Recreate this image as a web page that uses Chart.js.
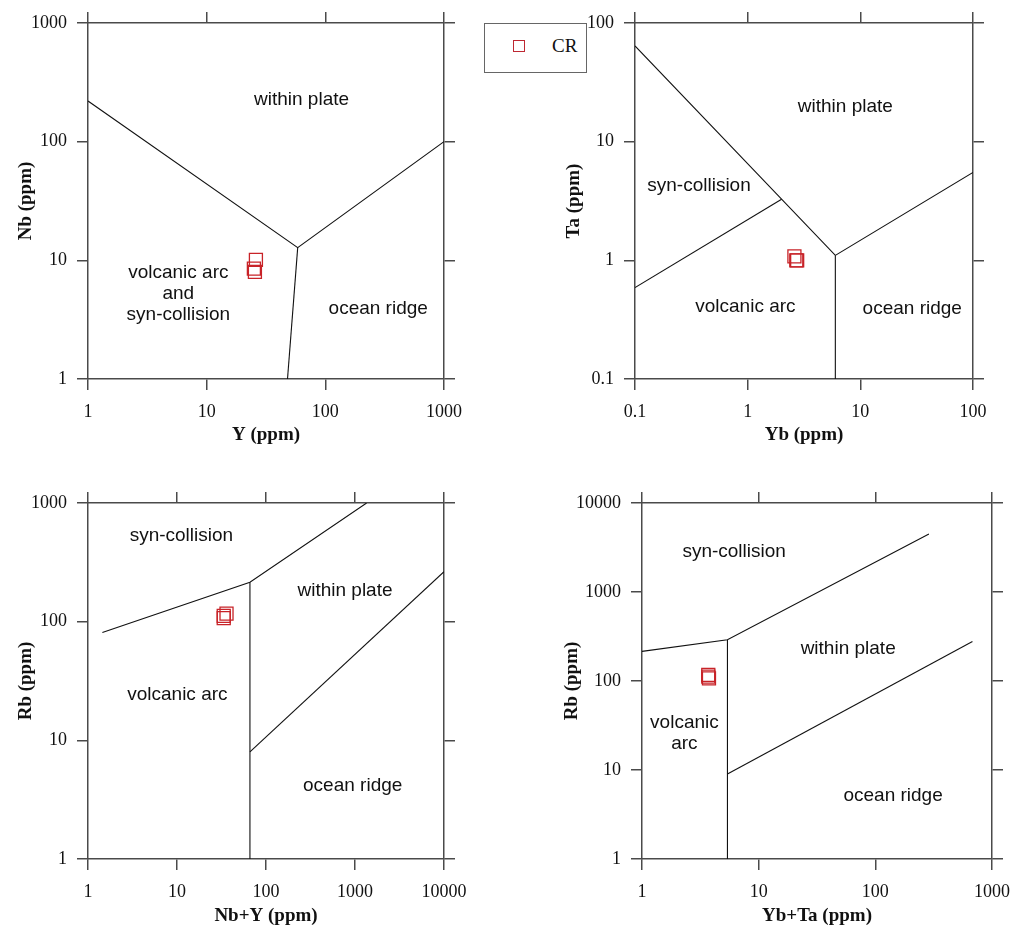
<!DOCTYPE html>
<html>
<head>
<meta charset="utf-8">
<title>Tectonic discrimination diagrams</title>
<script src="https://cdn.jsdelivr.net/npm/chart.js@4.4.1/dist/chart.umd.min.js"></script>
<style>
  html, body { margin: 0; padding: 0; background: #fff; overflow: hidden; }
  canvas { position: absolute; }
  #legend {
    position: absolute; left: 484px; top: 23px; width: 101px; height: 48px;
    border: 1.5px solid #666; background: #fff; z-index: 2;
    font-family: "Liberation Serif", "Times New Roman", serif; font-size: 19px; color: #111;
  }
  #legend .mk {
    position: absolute; left: 28px; top: 16px; width: 10px; height: 10px;
    border: 1.5px solid rgb(190, 40, 50);
  }
  #legend .lbl { position: absolute; left: 67px; top: 11px; line-height: 22px; }
</style>
</head>
<body>
<canvas id="nbY" width="480" height="460" style="left:0;top:0"></canvas>
<canvas id="taYb" width="509" height="460" style="left:520px;top:0"></canvas>
<canvas id="rbNbY" width="480" height="480" style="left:0;top:460px"></canvas>
<canvas id="rbYbTa" width="509" height="480" style="left:520px;top:460px"></canvas>
<div id="legend"><span class="mk"></span><span class="lbl">CR</span></div>
<script>
// CR samples
const sampleY = [26, 25, 25.5];
const sampleNb = [10.1, 8.5, 8.0];
const sampleYb = [2.6, 2.75, 2.7];
const sampleTa = [1.08, 1.0, 1.0];
const sampleRb = [117, 107, 112];
const sampleNbY = [36, 33.5, 33.5];
const sampleYbTa = [3.7, 3.75, 3.7];

// field boundaries, [x, y] pairs
const nbYLines = [
  [[1, 220], [58.5, 12.8], [1000, 100]],
  [[58.5, 12.8], [48, 1]]
];
const taYbLines = [
  [[0.1, 64], [6, 1.1], [100, 5.5]],
  [[0.1, 0.59], [2, 3.27]],
  [[6, 1.1], [6, 0.1]]
];
const rbNbYLines = [
  [[1.45, 81], [66, 215], [1350, 1000]],
  [[66, 215], [66, 1]],
  [[66, 8], [10000, 264]]
];
const rbYbTaLines = [
  [[1, 215], [5.4, 291], [288, 4490]],
  [[5.4, 291], [5.4, 1]],
  [[5.4, 9], [680, 278]]
];

// tick values
const ticks1to1000 = [1, 10, 100, 1000];
const ticks01to100 = [0.1, 1, 10, 100];
const ticks1to10000 = [1, 10, 100, 1000, 10000];

// field names
const nbYFields = [
  { text: ['within plate'], x: 63, y: 224 },
  { text: ['volcanic arc', 'and', 'syn-collision'], x: 5.77, y: 5.2 },
  { text: ['ocean ridge'], x: 279, y: 3.94 }
];
const taYbFields = [
  { text: ['within plate'], x: 7.36, y: 19.7 },
  { text: ['syn-collision'], x: 0.37, y: 4.23 },
  { text: ['volcanic arc'], x: 0.955, y: 0.407 },
  { text: ['ocean ridge'], x: 28.9, y: 0.394 }
];
const rbNbYFields = [
  { text: ['syn-collision'], x: 11.2, y: 529 },
  { text: ['within plate'], x: 772, y: 183 },
  { text: ['volcanic arc'], x: 10.1, y: 24.1 },
  { text: ['ocean ridge'], x: 942, y: 4.15 }
];
const rbYbTaFields = [
  { text: ['syn-collision'], x: 6.16, y: 2818 },
  { text: ['within plate'], x: 58.5, y: 230 },
  { text: ['volcanic', 'arc'], x: 2.31, y: 25.6 },
  { text: ['ocean ridge'], x: 142, y: 5.11 }
];

const axisColor = '#4a4a4a';
const red = 'rgb(200, 35, 40)';
const serif = '"Liberation Serif", "Times New Roman", serif';

// draws the field names at data coordinates
const fieldLabels = {
  id: 'fieldLabels',
  afterDatasetsDraw(chart, args, opts) {
    const { ctx, scales } = chart;
    ctx.save();
    ctx.font = '19px "Liberation Sans", Arial, sans-serif';
    ctx.fillStyle = '#111';
    ctx.textAlign = 'center';
    ctx.textBaseline = 'middle';
    (opts.items || []).forEach(f => {
      const cx = scales.x.getPixelForValue(f.x);
      const cy = scales.y.getPixelForValue(f.y);
      const y0 = cy - (f.text.length - 1) * 21 / 2;
      f.text.forEach((t, i) => ctx.fillText(t, cx, y0 + i * 21));
    });
    ctx.restore();
  }
};

function logAxis(axis, position, min, max, tickVals, size, extra) {
  return Object.assign({
    type: 'logarithmic',
    axis: axis,
    position: position,
    min: min,
    max: max,
    afterBuildTicks: s => { s.ticks = tickVals.map(v => ({ value: v })); },
    afterFit: s => {
      if (axis === 'x') s.height = size; else s.width = size;
    },
    grid: { drawOnChartArea: false, drawTicks: true, tickLength: 11, color: axisColor, lineWidth: 1.5 },
    border: { display: true, color: axisColor, width: 1.5 },
    ticks: { display: false }
  }, extra);
}

function shownTicks(pad) {
  return {
    display: true,
    autoSkip: false,
    maxRotation: 0,
    padding: pad,
    color: '#111',
    font: { family: serif, size: 18 },
    callback: v => String(v)
  };
}

function axisTitle(text, pad) {
  return { display: true, text: text, color: '#111', padding: pad,
           font: { family: serif, size: 19, weight: 'bold' } };
}

function makeChart(id, p) {
  const datasets = [{
    label: 'CR',
    data: p.xs.map((x, i) => ({ x: x, y: p.ys[i] })),
    xAxisID: 'x', yAxisID: 'y',
    pointStyle: 'rect',
    pointRadius: 9.2,
    borderColor: red,
    borderWidth: 1.3,
    backgroundColor: 'rgba(0,0,0,0)',
    showLine: false
  }];
  p.lines.forEach(l => {
    datasets.push({
      data: l.map(pt => ({ x: pt[0], y: pt[1] })),
      xAxisID: 'x', yAxisID: 'y',
      showLine: true,
      pointRadius: 0,
      borderColor: '#111',
      borderWidth: 1.1,
      fill: false
    });
  });

  new Chart(document.getElementById(id), {
    type: 'scatter',
    data: { datasets: datasets },
    options: {
      responsive: false,
      animation: false,
      devicePixelRatio: 1,
      layout: { padding: 0 },
      plugins: {
        legend: { display: false },
        tooltip: { enabled: false },
        fieldLabels: { items: p.fields }
      },
      scales: {
        x: logAxis('x', 'bottom', p.xr[0], p.xr[1], p.xt, p.bottom, {
          ticks: shownTicks(11),
          title: axisTitle(p.xTitle, { top: 0, bottom: p.xTitlePad })
        }),
        y: logAxis('y', 'left', p.yr[0], p.yr[1], p.yt, p.left, {
          ticks: shownTicks(10),
          title: axisTitle(p.yTitle, { top: p.yTitlePad, bottom: 0 })
        }),
        x2: logAxis('x', 'top', p.xr[0], p.xr[1], p.xt, p.top),
        y2: logAxis('y', 'right', p.yr[0], p.yr[1], p.yt, p.right)
      }
    },
    plugins: [fieldLabels]
  });
}

makeChart('nbY', {
  xs: sampleY, ys: sampleNb, lines: nbYLines, fields: nbYFields,
  xr: [1, 1000], yr: [1, 1000], xt: ticks1to1000, yt: ticks1to1000,
  xTitle: 'Y (ppm)', yTitle: 'Nb (ppm)',
  left: 88, right: 36, top: 23, bottom: 81, xTitlePad: 13.6, yTitlePad: 14.4
});

makeChart('taYb', {
  xs: sampleYb, ys: sampleTa, lines: taYbLines, fields: taYbFields,
  xr: [0.1, 100], yr: [0.1, 100], xt: ticks01to100, yt: ticks01to100,
  xTitle: 'Yb (ppm)', yTitle: 'Ta (ppm)',
  left: 115, right: 56, top: 23, bottom: 81, xTitlePad: 13.6, yTitlePad: 43.1
});

makeChart('rbNbY', {
  xs: sampleNbY, ys: sampleRb, lines: rbNbYLines, fields: rbNbYFields,
  xr: [1, 10000], yr: [1, 1000], xt: ticks1to10000, yt: ticks1to1000,
  xTitle: 'Nb+Y (ppm)', yTitle: 'Rb (ppm)',
  left: 88, right: 36, top: 43, bottom: 81, xTitlePad: 12.6, yTitlePad: 14.4
});

makeChart('rbYbTa', {
  xs: sampleYbTa, ys: sampleRb, lines: rbYbTaLines, fields: rbYbTaFields,
  xr: [1, 1000], yr: [1, 10000], xt: ticks1to1000, yt: ticks1to10000,
  xTitle: 'Yb+Ta (ppm)', yTitle: 'Rb (ppm)',
  left: 122, right: 37, top: 43, bottom: 81, xTitlePad: 12.6, yTitlePad: 41.1
});
</script>
</body>
</html>
